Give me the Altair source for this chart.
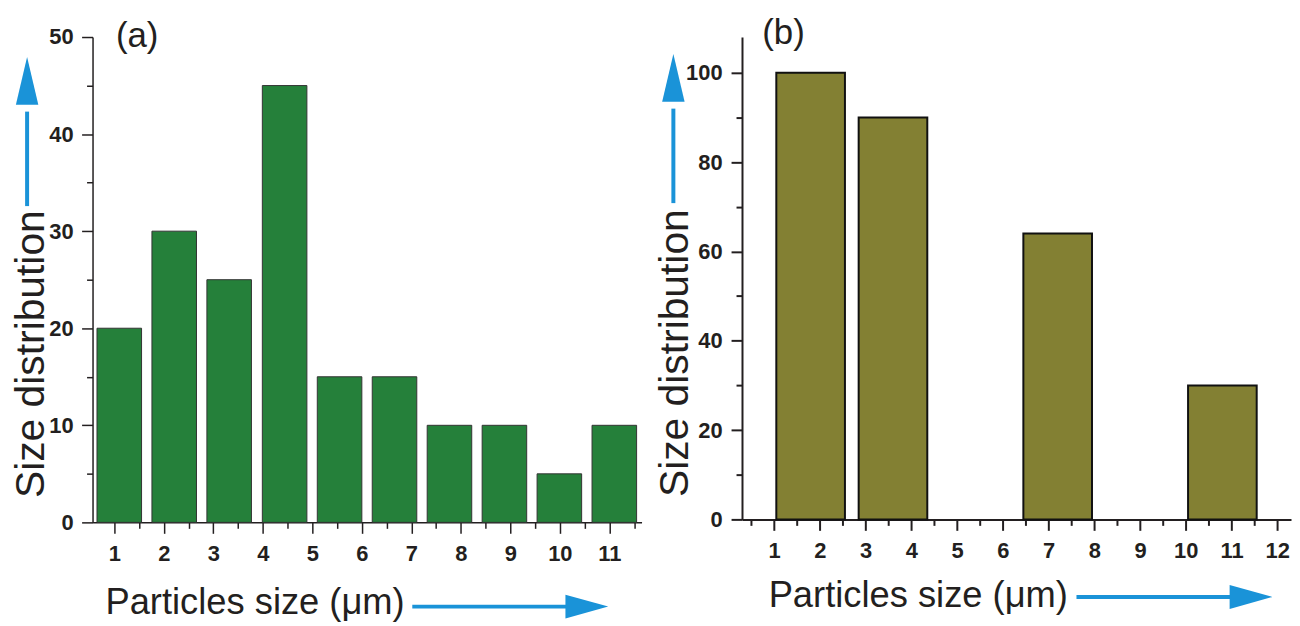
import altair as alt
import pandas as pd

# ---------------- data: panel (a) ----------------
a_bin_lo = [0.65, 1.76, 2.87, 3.99, 5.10, 6.21, 7.32, 8.43, 9.54, 10.65]
a_bin_hi = [1.55, 2.66, 3.77, 4.89, 6.00, 7.11, 8.22, 9.33, 10.44, 11.55]
a_counts = [20, 30, 25, 45, 15, 15, 10, 10, 5, 10]
a_x_ticks = [1, 1.5, 2, 2.5, 3, 3.5, 4, 4.5, 5, 5.5, 6, 6.5, 7, 7.5, 8, 8.5,
             9, 9.5, 10, 10.5, 11, 11.5]
a_y_ticks = [0, 5, 10, 15, 20, 25, 30, 35, 40, 45, 50]

# ---------------- data: panel (b) ----------------
b_bin_lo = [1.05, 2.85, 6.45, 10.05]
b_bin_hi = [2.55, 4.35, 7.95, 11.55]
b_counts = [100, 90, 64, 30]
b_x_ticks = [0.5, 1, 1.5, 2, 2.5, 3, 3.5, 4, 4.5, 5, 5.5, 6, 6.5, 7, 7.5, 8,
             8.5, 9, 9.5, 10, 10.5, 11, 11.5, 12]
b_y_ticks = [0, 10, 20, 30, 40, 50, 60, 70, 80, 90, 100]

X_TITLE = "Particles size (μm)"
Y_TITLE = "Size distribution"

FONT = "Liberation Sans"
TXT = "#231f20"
BLUE = "#1a93d8"
ANNOT = alt.Data(values=[{"k": 0}])


def panel(lo, hi, counts, xdom, ydom, xticks, yticks, ymajor, w, h,
          fill, stroke, bar_sw, ax_w, ylab_pad, xlab_pad,
          ytitle_xy, xtitle_xy, letter, letter_xy, varrow, harrow):
    df = pd.DataFrame({"lo": lo, "hi": hi, "count": counts})
    x_axis = alt.Axis(
        values=xticks, tickCount=100, title=X_TITLE, grid=False,
        labelExpr="datum.value % 1 === 0 ? '' + datum.value : ''",
        labelOverlap=False, labelFlush=False,
        labelFont=FONT, labelFontWeight="bold", labelFontSize=22,
        labelColor=TXT, labelPadding=xlab_pad,
        tickSize={"condition": {"test": "datum.value % 1 !== 0", "value": 6},
                  "value": 11},
        tickWidth=ax_w, tickColor=TXT, domainColor=TXT, domainWidth=ax_w,
        titleFont=FONT, titleFontSize=36.5, titleFontWeight="normal",
        titleColor=TXT, titleX=xtitle_xy[0], titleY=xtitle_xy[1],
        titleAlign="left", titleBaseline="alphabetic",
    )
    y_axis = alt.Axis(
        values=yticks, tickCount=100, title=Y_TITLE, grid=False,
        labelExpr=f"datum.value % {ymajor} === 0 ? '' + datum.value : ''",
        labelOverlap=False, labelFlush=False,
        labelFont=FONT, labelFontWeight="bold", labelFontSize=22,
        labelColor=TXT, labelPadding=ylab_pad,
        tickSize={"condition": {"test": f"datum.value % {ymajor} !== 0", "value": 6},
                  "value": 11},
        tickWidth=ax_w, tickColor=TXT, domainColor=TXT, domainWidth=ax_w,
        titleFont=FONT, titleFontSize=41, titleFontWeight="normal",
        titleColor=TXT, titleAngle=270, titleX=ytitle_xy[0], titleY=ytitle_xy[1],
        titleAlign="left", titleBaseline="alphabetic",
    )
    bars = alt.Chart(df).mark_rect(
        fill=fill, stroke=stroke, strokeWidth=bar_sw
    ).encode(
        x=alt.X("lo:Q", scale=alt.Scale(domain=xdom, nice=False, zero=False, padding=0),
                axis=x_axis),
        x2="hi:Q",
        y=alt.Y("count:Q", scale=alt.Scale(domain=ydom, nice=False, padding=0),
                axis=y_axis),
        y2=alt.datum(0),
    )
    letter_txt = alt.Chart(ANNOT).mark_text(
        text=letter, font=FONT, fontSize=35, color=TXT, align="left",
        baseline="alphabetic"
    ).encode(x=alt.value(letter_xy[0]), y=alt.value(letter_xy[1]))

    vx, vy_bottom, vy_top, vy_head = varrow
    v_shaft = alt.Chart(ANNOT).mark_rule(color=BLUE, strokeWidth=4).encode(
        x=alt.value(vx), y=alt.value(vy_bottom), y2=alt.value(vy_top))
    v_head = alt.Chart(ANNOT).mark_point(
        shape="M0,-1L0.47,1L-0.47,1Z", filled=True, size=2304, color=BLUE,
        opacity=1, strokeWidth=0
    ).encode(x=alt.value(vx), y=alt.value(vy_head))

    hx_left, hx_right, hy, hx_head = harrow
    h_shaft = alt.Chart(ANNOT).mark_rule(color=BLUE, strokeWidth=4).encode(
        x=alt.value(hx_left), x2=alt.value(hx_right), y=alt.value(hy))
    h_head = alt.Chart(ANNOT).mark_point(
        shape="M1,0L-1,-0.56L-1,0.56Z", filled=True, size=1849, color=BLUE,
        opacity=1, strokeWidth=0
    ).encode(x=alt.value(hx_head), y=alt.value(hy))

    return alt.layer(bars, letter_txt, v_shaft, v_head, h_shaft, h_head).properties(
        width=w, height=h)


chart_a = panel(
    a_bin_lo, a_bin_hi, a_counts, [0.56, 11.65], [0, 50], a_x_ticks, a_y_ticks, 10,
    552, 488, "#25803a", "#333333", 1, 1.5, 8.5, 10,
    ytitle_xy=(-49.5, 463), xtitle_xy=(12.5, 91.5),
    letter="(a)", letter_xy=(23.5, 10.5),
    varrow=(-65.8, 170, 75, 44), harrow=(321.5, 478, 572.7, 497),
)

chart_b = panel(
    b_bin_lo, b_bin_hi, b_counts, [0.30, 12.30], [0, 108], b_x_ticks, b_y_ticks, 20,
    552, 485, "#838033", "#111111", 2, 2, 9, 10,
    ytitle_xy=(-54.7, 462), xtitle_xy=(26.3, 88),
    letter="(b)", letter_xy=(20.3, 7.5),
    varrow=(-69, 167, 72, 41), harrow=(336.3, 495, 563, 511.8),
)

chart = alt.hconcat(chart_a, chart_b, spacing=11).properties(
    padding={"left": 1, "top": 6.5, "right": 0, "bottom": 0},
    background="white",
).configure_view(stroke="transparent")

chart.save("out.html", embed_options={"renderer": "svg", "actions": False})
